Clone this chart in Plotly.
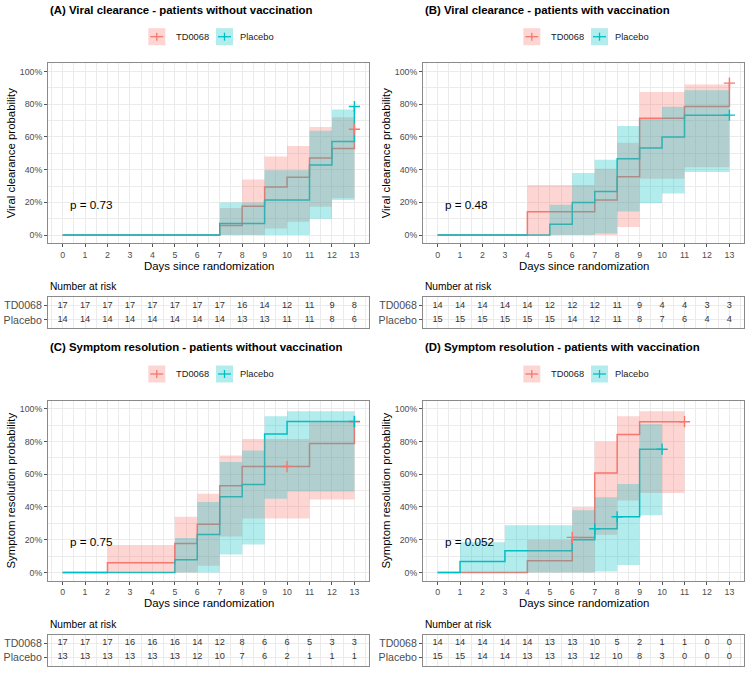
import plotly.graph_objects as go

W, H = 750, 675
FONT = "Liberation Sans, Arial, Helvetica, sans-serif"

days = list(range(14))
groups = ["TD0068", "Placebo"]
line_colors = {"TD0068": "#F8766D", "Placebo": "#00BFC4"}
fill_colors = {"TD0068": "rgba(248,118,109,0.3)", "Placebo": "rgba(0,191,196,0.3)"}

titles = [
    "(A) Viral clearance - patients without vaccination",
    "(B) Viral clearance - patients with vaccination",
    "(C) Symptom resolution - patients without vaccination",
    "(D) Symptom resolution - patients with vaccination",
]
y_titles = [
    "Viral clearance probability",
    "Viral clearance probability",
    "Symptom resolution probability",
    "Symptom resolution probability",
]
p_values = ["p = 0.73", "p = 0.48", "p = 0.75", "p = 0.052"]
x_title = "Days since randomization"

# ---- Panel A: viral clearance, without vaccination ----
A_td_time = [0, 7, 8, 9, 10, 11, 12, 13]
A_td_est = [0, 0.059, 0.176, 0.294, 0.353, 0.471, 0.529, 0.647]
A_td_low = [0, 0, 0, 0.04, 0.081, 0.173, 0.225, 0.225]
A_td_up = [0, 0.165, 0.34, 0.48, 0.545, 0.66, 0.72, 0.72]
A_td_end = 13
A_td_cens = [13]
A_pl_time = [0, 7, 9, 11, 12, 13]
A_pl_est = [0, 0.071, 0.214, 0.429, 0.572, 0.786]
A_pl_low = [0, 0, 0, 0.10, 0.215, 0.215]
A_pl_up = [0, 0.199, 0.396, 0.638, 0.768, 0.768]
A_pl_end = 13
A_pl_cens = [13]
A_risk_td = [17, 17, 17, 17, 17, 17, 17, 17, 16, 14, 12, 11, 9, 8]
A_risk_pl = [14, 14, 14, 14, 14, 14, 14, 14, 13, 13, 11, 11, 8, 6]

# ---- Panel B: viral clearance, with vaccination ----
B_td_time = [0, 4, 7, 8, 9, 11, 13]
B_td_est = [0, 0.143, 0.214, 0.357, 0.714, 0.786, 0.929]
B_td_low = [0, 0, 0, 0.05, 0.345, 0.415, 0.415]
B_td_up = [0, 0.307, 0.405, 0.565, 0.875, 0.92, 0.92]
B_td_end = 13
B_td_cens = [13]
B_pl_time = [0, 5, 6, 7, 8, 9, 10, 11]
B_pl_est = [0, 0.067, 0.20, 0.267, 0.467, 0.533, 0.60, 0.733]
B_pl_low = [0, 0, 0, 0.01, 0.145, 0.195, 0.255, 0.385]
B_pl_up = [0, 0.185, 0.38, 0.46, 0.667, 0.71, 0.785, 0.885]
B_pl_end = 13
B_pl_cens = [13]
B_risk_td = [14, 14, 14, 14, 14, 12, 12, 12, 11, 9, 4, 4, 3, 3]
B_risk_pl = [15, 15, 15, 15, 15, 15, 14, 12, 11, 8, 7, 6, 4, 4]

# ---- Panel C: symptom resolution, without vaccination ----
C_td_time = [0, 2, 5, 6, 7, 8, 11, 13]
C_td_est = [0, 0.059, 0.176, 0.294, 0.529, 0.647, 0.788, 0.92]
C_td_low = [0, 0, 0, 0.04, 0.22, 0.33, 0.445, 0.445]
C_td_up = [0, 0.167, 0.34, 0.48, 0.715, 0.815, 0.925, 0.925]
C_td_end = 13
C_td_cens = [10, 13]
C_pl_time = [0, 5, 6, 7, 8, 9, 10]
C_pl_est = [0, 0.077, 0.231, 0.462, 0.538, 0.846, 0.923]
C_pl_low = [0, 0, 0, 0.11, 0.17, 0.45, 0.495]
C_pl_up = [0, 0.21, 0.43, 0.675, 0.745, 0.955, 0.985]
C_pl_end = 13
C_pl_cens = [13]
C_risk_td = [17, 17, 17, 16, 16, 16, 14, 12, 8, 6, 6, 5, 3, 3]
C_risk_pl = [13, 13, 13, 13, 13, 13, 12, 10, 7, 6, 2, 1, 1, 1]

# ---- Panel D: symptom resolution, with vaccination ----
D_td_time = [0, 4, 6, 7, 8, 9]
D_td_est = [0, 0.071, 0.214, 0.607, 0.843, 0.921]
D_td_low = [0, 0, 0, 0.23, 0.44, 0.485]
D_td_up = [0, 0.20, 0.40, 0.80, 0.955, 0.985]
D_td_end = 11
D_td_cens = [6, 11]
D_pl_time = [0, 1, 3, 6, 7, 8, 9]
D_pl_est = [0, 0.067, 0.133, 0.20, 0.267, 0.34, 0.753]
D_pl_low = [0, 0, 0, 0, 0.005, 0.045, 0.35]
D_pl_up = [0, 0.185, 0.288, 0.38, 0.46, 0.54, 0.905]
D_pl_end = 10
D_pl_cens = [7, 8, 10]
D_risk_td = [14, 14, 14, 14, 14, 13, 13, 10, 5, 2, 1, 1, 0, 0]
D_risk_pl = [15, 15, 14, 14, 13, 13, 13, 12, 10, 8, 3, 0, 0, 0]

panels = [
    {"TD0068": (A_td_time, A_td_est, A_td_low, A_td_up, A_td_end, A_td_cens),
     "Placebo": (A_pl_time, A_pl_est, A_pl_low, A_pl_up, A_pl_end, A_pl_cens),
     "risk": (A_risk_td, A_risk_pl)},
    {"TD0068": (B_td_time, B_td_est, B_td_low, B_td_up, B_td_end, B_td_cens),
     "Placebo": (B_pl_time, B_pl_est, B_pl_low, B_pl_up, B_pl_end, B_pl_cens),
     "risk": (B_risk_td, B_risk_pl)},
    {"TD0068": (C_td_time, C_td_est, C_td_low, C_td_up, C_td_end, C_td_cens),
     "Placebo": (C_pl_time, C_pl_est, C_pl_low, C_pl_up, C_pl_end, C_pl_cens),
     "risk": (C_risk_td, C_risk_pl)},
    {"TD0068": (D_td_time, D_td_est, D_td_low, D_td_up, D_td_end, D_td_cens),
     "Placebo": (D_pl_time, D_pl_est, D_pl_low, D_pl_up, D_pl_end, D_pl_cens),
     "risk": (D_risk_td, D_risk_pl)},
]


def px_x(p):
    return p / W


def px_y(p):
    return 1 - p / H


def step_value(times, est, t):
    v = est[0]
    for ti, ei in zip(times, est):
        if ti <= t:
            v = ei
    return v


fig = go.Figure()
layout = {}
annotations = []
shapes = []

GRID = "#EBEBEB"
BORDER = "#8a8a8a"
TICKC = "#4D4D4D"

for i, pdata in enumerate(panels):
    col, row = i % 2, i // 2
    dx, dy = 375 * col, 337.3 * row
    left, right = 48 + dx, 369 + dx
    ptop, pbot = 63.3 + dy, 243.3 + dy
    ttop, tbot = 297.3 + dy, 328.3 + dy
    xa, ya = 2 * i + 1, 2 * i + 1
    xt, yt = 2 * i + 2, 2 * i + 2
    xref_p = "x" if xa == 1 else f"x{xa}"
    yref_p = "y" if ya == 1 else f"y{ya}"
    xref_t, yref_t = f"x{xt}", f"y{yt}"

    # step lines first (ribbons drawn over them, as in the reference)
    for g in groups:
        t, e, lo, up, end, cens = pdata[g]
        lx = list(t) + ([end] if end > t[-1] else [])
        ly = list(e) + ([e[-1]] if end > t[-1] else [])
        fig.add_trace(go.Scatter(x=lx, y=ly, mode="lines", line=dict(color=line_colors[g], width=1.5, shape="hv"),
                                 xaxis=xref_p, yaxis=yref_p, showlegend=False, hoverinfo="skip"))
    # confidence ribbons
    for g in groups:
        t, e, lo, up, end, cens = pdata[g]
        rx = list(t) + ([end] if end > t[-1] else [])
        rlo = list(lo) + ([lo[-1]] if end > t[-1] else [])
        rup = list(up) + ([up[-1]] if end > t[-1] else [])
        fig.add_trace(go.Scatter(x=rx, y=rlo, mode="lines", line=dict(width=0, shape="hv", color=line_colors[g]),
                                 xaxis=xref_p, yaxis=yref_p, showlegend=False, hoverinfo="skip"))
        fig.add_trace(go.Scatter(x=rx, y=rup, mode="lines", line=dict(width=0, shape="hv", color=line_colors[g]),
                                 fill="tonexty", fillcolor=fill_colors[g],
                                 xaxis=xref_p, yaxis=yref_p, showlegend=False, hoverinfo="skip"))
    # censor marks
    for g in groups:
        t, e, lo, up, end, cens = pdata[g]
        cy = [step_value(t, e, c) for c in cens]
        fig.add_trace(go.Scatter(x=cens, y=cy, mode="markers",
                                 marker=dict(symbol="cross-thin", size=8, line=dict(color=line_colors[g], width=1.4)),
                                 xaxis=xref_p, yaxis=yref_p, showlegend=False, hoverinfo="skip"))
    # risk table
    rtd, rpl = pdata["risk"]
    for vals, yv in ((rtd, 2), (rpl, 1)):
        fig.add_trace(go.Scatter(x=days, y=[yv] * len(days), mode="text", text=[str(v) for v in vals],
                                 textfont=dict(size=9.2, color="#333333", family=FONT),
                                 xaxis=xref_t, yaxis=yref_t, showlegend=False, hoverinfo="skip"))

    xdom = [px_x(left), px_x(right)]
    common_x = dict(range=[-0.65, 13.65], domain=xdom, showgrid=True, gridcolor=GRID, gridwidth=1,
                    minor=dict(dtick=0.5, tick0=0, showgrid=True, gridcolor=GRID, gridwidth=0.5),
                    zeroline=False, showline=True, linecolor=BORDER, linewidth=1, mirror=True,
                    tickmode="linear", tick0=0, dtick=1)
    layout[f"xaxis{xa}"] = dict(common_x, anchor=yref_p, ticks="outside", ticklen=3, tickcolor="#555",
                                tickfont=dict(size=8.8, color=TICKC, family=FONT))
    layout[f"yaxis{ya}"] = dict(range=[-0.05, 1.05], domain=[px_y(pbot), px_y(ptop)], anchor=xref_p,
                                tickmode="linear", tick0=0, dtick=0.2, tickformat=".0%",
                                showgrid=True, gridcolor=GRID, gridwidth=1,
                                minor=dict(dtick=0.1, tick0=0, showgrid=True, gridcolor=GRID, gridwidth=0.5),
                                zeroline=False, showline=True, linecolor=BORDER, linewidth=1, mirror=True,
                                ticks="outside", ticklen=3, tickcolor="#555",
                                tickfont=dict(size=8.8, color=TICKC, family=FONT))
    layout[f"xaxis{xt}"] = dict(common_x, anchor=yref_t, showticklabels=False, ticks="")
    layout[f"yaxis{yt}"] = dict(range=[0.4, 2.6], domain=[px_y(tbot), px_y(ttop)], anchor=xref_t,
                                tickmode="array", tickvals=[1, 2], ticktext=["Placebo", "TD0068"],
                                showgrid=True, gridcolor=GRID, gridwidth=1, zeroline=False,
                                showline=True, linecolor=BORDER, linewidth=1, mirror=True,
                                ticks="outside", ticklen=3, tickcolor="#555",
                                tickfont=dict(size=10.6, color=TICKC, family=FONT))

    # title
    annotations.append(dict(x=px_x(left), y=px_y(10 + dy), xref="paper", yref="paper", xanchor="left",
                            yanchor="middle", showarrow=False, text=f"<b>{titles[i]}</b>",
                            font=dict(size=11.4, color="#000", family=FONT)))
    # legend
    ly_c = 36.7 + dy
    for g, kx, tx in (("TD0068", 148.3, 174), ("Placebo", 216, 238.3)):
        k0 = kx - 48 + left
        shapes.append(dict(type="rect", xref="paper", yref="paper", x0=px_x(k0), x1=px_x(k0 + 17),
                           y0=px_y(ly_c + 8.5), y1=px_y(ly_c - 8.5), fillcolor=fill_colors[g], line=dict(width=0)))
        shapes.append(dict(type="line", xref="paper", yref="paper", x0=px_x(k0 + 2), x1=px_x(k0 + 15),
                           y0=px_y(ly_c), y1=px_y(ly_c), line=dict(color=line_colors[g], width=1.3)))
        shapes.append(dict(type="line", xref="paper", yref="paper", x0=px_x(k0 + 8.5), x1=px_x(k0 + 8.5),
                           y0=px_y(ly_c - 4), y1=px_y(ly_c + 4), line=dict(color=line_colors[g], width=1.3)))
        annotations.append(dict(x=px_x(tx - 48 + left), y=px_y(ly_c), xref="paper", yref="paper",
                                xanchor="left", yanchor="middle", showarrow=False, text=g,
                                font=dict(size=9.3, color="#1a1a1a", family=FONT)))
    # y title
    annotations.append(dict(x=px_x(11 + dx), y=px_y((ptop + pbot) / 2), xref="paper", yref="paper",
                            xanchor="center", yanchor="middle", showarrow=False, textangle=-90,
                            text=y_titles[i], font=dict(size=11.4, color="#000", family=FONT)))
    # x title
    annotations.append(dict(x=px_x((left + right) / 2), y=px_y(266 + dy), xref="paper", yref="paper",
                            xanchor="center", yanchor="middle", showarrow=False,
                            text=x_title, font=dict(size=11.4, color="#000", family=FONT)))
    # number at risk
    annotations.append(dict(x=px_x(left), y=px_y(287 + dy), xref="paper", yref="paper",
                            xanchor="left", yanchor="middle", showarrow=False,
                            text="Number at risk", font=dict(size=10.2, color="#000", family=FONT)))
    # p-value
    annotations.append(dict(x=0.22, y=0.19, xref=xref_p, yref=yref_p, xanchor="left", yanchor="middle",
                            showarrow=False, text=p_values[i], font=dict(size=11.7, color="#000", family=FONT)))

fig.update_layout(
    width=W, height=H, margin=dict(l=0, r=0, t=0, b=0),
    paper_bgcolor="white", plot_bgcolor="white",
    font=dict(family=FONT), showlegend=False,
    annotations=annotations, shapes=shapes, **layout,
)

fig.write_html("out.html", config={"displayModeBar": False},
               post_script="document.body.style.margin='0px';document.body.style.overflow='hidden';")
